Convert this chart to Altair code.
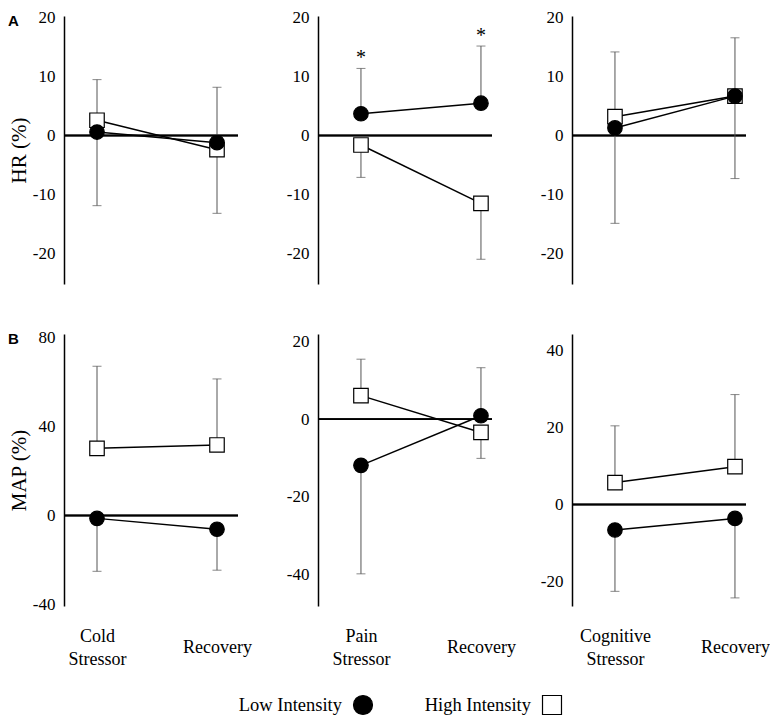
import json
import altair as alt
import pandas as pd

SERIF = "Liberation Serif"
SANS = "Liberation Sans"

# ---------------- data ----------------
stressor_lines = [["Cold", "Stressor"], ["Pain", "Stressor"], ["Cognitive", "Stressor"]]
recovery_label = "Recovery"
series_names = ["Low Intensity", "High Intensity"]
phase_x = [0, 1]  # stressor, recovery
row_tags = ["A", "B"]
row_titles = ["HR (%)", "MAP (%)"]

# order: Cold S, Cold R, Pain S, Pain R, Cognitive S, Cognitive R
hr_low = [0.6, -1.2, 3.7, 5.5, 1.3, 6.7]
hr_low_err = [-11.9, 8.2, 11.4, 15.2, -14.9, -7.3]
hr_high = [2.6, -2.4, -1.6, -11.5, 3.2, 6.7]
hr_high_err = [9.5, -13.2, -7.1, -21.0, 14.2, 16.6]
hr_low_sig = [0, 0, 1, 1, 0, 0]

map_low = [-1.3, -6.2, -11.9, 0.9, -6.6, -3.6]
map_low_err = [-25.1, -24.6, -39.9, 13.3, -22.5, -24.2]
map_high = [30.2, 31.7, 6.1, -3.4, 5.7, 9.8]
map_high_err = [67.1, 61.4, 15.5, -10.1, 20.4, 28.5]
map_low_sig = [0, 0, 0, 0, 0, 0]

hr_ticks = [[-20, -10, 0, 10, 20]] * 3
map_ticks = [[-40, 0, 40, 80], [-40, -20, 0, 20], [-20, 0, 20, 40]]

# scale extents (styling)
hr_domains = [[-25.2, 20.3]] * 3
map_domains = [[-40.7, 81.6], [-48.2, 22.0], [-26.3, 44.2]]
x_domains = [[-0.275, 1.175], [-0.358, 1.092], [-0.358, 1.092]]

PANEL_W = 174


def panel_df(low, low_err, high, high_err, sig, p):
    rows = []
    for k, px in enumerate(phase_x):
        i = 2 * p + k
        rows.append(dict(x=px, series=series_names[1], value=high[i], err=high_err[i], sig=0))
        rows.append(dict(x=px, series=series_names[0], value=low[i], err=low_err[i], sig=sig[i]))
    return pd.DataFrame(rows)


shape_scale = alt.Scale(domain=series_names, range=["circle", "square"])
fill_scale = alt.Scale(domain=series_names, range=["black", "white"])


def make_panel(df, ydom, yticks, xdom, ytitle, tag, bottom, p, height):
    if bottom:
        expr = f"datum.value == 0 ? {json.dumps(stressor_lines[p])} : {json.dumps(recovery_label)}"
        x_axis = alt.Axis(
            values=phase_x, labelExpr=expr, domain=False, ticks=False, tickSize=0,
            grid=False, title=None, labelFont=SERIF, labelFontSize=18, labelColor="black",
            labelLineHeight=23, labelBaseline="top", labelAlign="center",
            labelPadding={"condition": {"test": "datum.value == 1", "value": 32}, "value": 21},
            labelOverlap=False, labelBound=False, labelFlush=False,
        )
    else:
        x_axis = None
    x = alt.X("x:Q", scale=alt.Scale(domain=xdom, nice=False, zero=False), axis=x_axis)
    yaxis_kw = dict(
        values=yticks, grid=False, ticks=False, tickSize=0, domainColor="black",
        domainWidth=1.5, labelFont=SERIF, labelFontSize=17, labelColor="black",
        labelPadding=9, minExtent=32, labelExpr="'' + datum.value",
    )
    if ytitle:
        yaxis_kw.update(title=ytitle, titleFont=SERIF, titleFontSize=21,
                        titleFontWeight="normal", titleColor="black", titlePadding=3)
    else:
        yaxis_kw.update(title=None)
    y = alt.Y("value:Q", scale=alt.Scale(domain=ydom, nice=False, zero=False),
              axis=alt.Axis(**yaxis_kw))

    base = alt.Chart(df)
    zero = base.mark_rule(color="black", strokeWidth=1.5).encode(y=alt.datum(0))
    bars = base.mark_rule(color="#555555", strokeWidth=1).encode(x=x, y=y, y2="err:Q")
    caps = base.mark_tick(color="#555555", thickness=1, size=9, orient="horizontal").encode(
        x=x, y=alt.Y("err:Q"))
    lines = base.mark_line(color="black", strokeWidth=1.5).encode(x=x, y=y, detail="series:N")
    pts = base.mark_point(filled=True, size=210, stroke="black", strokeWidth=1.2,
                          opacity=1, fillOpacity=1).encode(
        x=x, y=y,
        shape=alt.Shape("series:N", scale=shape_scale, legend=None),
        fill=alt.Fill("series:N", scale=fill_scale, legend=None),
    )
    stars = base.transform_filter("datum.sig == 1").mark_text(
        text="*", font=SERIF, fontSize=20, dy=-4, baseline="alphabetic", color="black"
    ).encode(x=x, y=alt.Y("err:Q"))
    layers = [zero, bars, caps, lines, pts, stars]
    if tag:
        tag_mark = alt.Chart(pd.DataFrame({"tag": [tag]})).mark_text(
            font=SANS, fontSize=15, fontWeight="bold", align="left", baseline="top",
            color="black"
        ).encode(text="tag:N", x=alt.value(-56), y=alt.value(-2))
        layers.append(tag_mark)
    return alt.layer(*layers).properties(width=PANEL_W, height=height)


row_a_panels = []
row_b_panels = []
for p in range(3):
    dfa = panel_df(hr_low, hr_low_err, hr_high, hr_high_err, hr_low_sig, p)
    row_a_panels.append(make_panel(dfa, hr_domains[p], hr_ticks[p], x_domains[p],
                                   row_titles[0] if p == 0 else None,
                                   row_tags[0] if p == 0 else None, False, p, 268))
    dfb = panel_df(map_low, map_low_err, map_high, map_high_err, map_low_sig, p)
    row_b_panels.append(make_panel(dfb, map_domains[p], map_ticks[p], x_domains[p],
                                   row_titles[1] if p == 0 else None,
                                   row_tags[1] if p == 0 else None, True, p, 272))

row_a = alt.hconcat(*row_a_panels, spacing=80, bounds="flush")
row_b = alt.hconcat(*row_b_panels, spacing=80, bounds="flush")

# legend row
legend_df = pd.DataFrame({"series": series_names})
legend_x = alt.X("series:N",
                 scale=alt.Scale(type="point", domain=series_names, range=[299, 488],
                                 padding=0),
                 axis=None)
legend_pts = alt.Chart(legend_df).mark_point(filled=True, size=360, stroke="black",
                                             strokeWidth=1.2, opacity=1).encode(
    x=legend_x,
    shape=alt.Shape("series:N", scale=shape_scale, legend=None),
    fill=alt.Fill("series:N", scale=fill_scale, legend=None),
)
legend_txt = alt.Chart(legend_df).mark_text(align="right", dx=-21, font=SERIF, fontSize=18.5,
                                            baseline="middle", color="black").encode(
    x=legend_x, text="series:N")
legend = alt.layer(legend_pts, legend_txt).properties(width=520, height=22)

chart = alt.vconcat(
    alt.vconcat(row_a, row_b, spacing=44),
    legend,
    spacing=25,
).properties(padding=0, background="white").configure(font=SERIF).configure_view(stroke=None)

chart.save("out.html", embed_options={"renderer": "svg", "actions": False})
